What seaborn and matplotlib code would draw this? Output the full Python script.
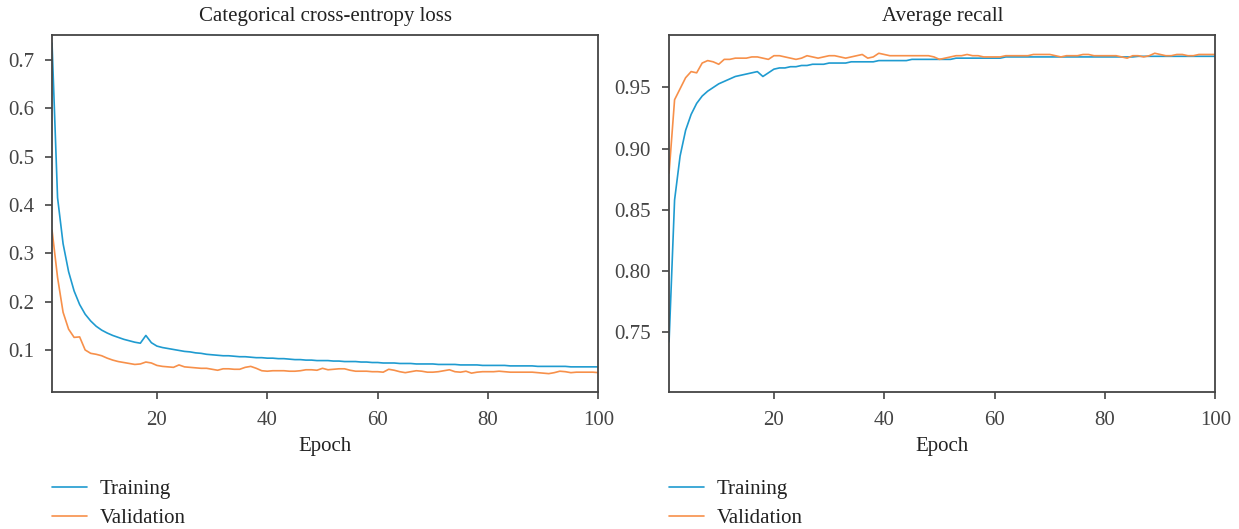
import numpy as np
import pandas as pd
import matplotlib
matplotlib.use("Agg")
import matplotlib.pyplot as plt
import seaborn as sns

# ---------------------------------------------------------------- data
epochs = list(range(1, 101))

train_loss = [
    0.735, 0.415, 0.320, 0.262, 0.222, 0.194, 0.174, 0.160, 0.149, 0.141,
    0.135, 0.130, 0.126, 0.122, 0.119, 0.116, 0.114, 0.130, 0.115, 0.108,
    0.105, 0.103, 0.101, 0.099, 0.097, 0.096, 0.094, 0.093, 0.091, 0.090,
    0.089, 0.088, 0.088, 0.087, 0.086, 0.086, 0.085, 0.084, 0.084, 0.083,
    0.083, 0.082, 0.082, 0.081, 0.080, 0.080, 0.079, 0.079, 0.078, 0.078,
    0.078, 0.077, 0.077, 0.076, 0.076, 0.076, 0.075, 0.075, 0.074, 0.074,
    0.073, 0.073, 0.073, 0.072, 0.072, 0.072, 0.071, 0.071, 0.071, 0.071,
    0.070, 0.070, 0.070, 0.070, 0.069, 0.069, 0.069, 0.069, 0.068, 0.068,
    0.068, 0.068, 0.068, 0.067, 0.067, 0.067, 0.067, 0.067, 0.066, 0.066,
    0.066, 0.066, 0.066, 0.066, 0.065, 0.065, 0.065, 0.065, 0.065, 0.065,
]

val_loss = [
    0.348, 0.250, 0.178, 0.143, 0.126, 0.127, 0.100, 0.093, 0.091, 0.088,
    0.083, 0.079, 0.076, 0.074, 0.072, 0.070, 0.071, 0.075, 0.073, 0.068,
    0.066, 0.065, 0.064, 0.069, 0.065, 0.064, 0.063, 0.062, 0.062, 0.060,
    0.058, 0.061, 0.061, 0.060, 0.060, 0.064, 0.066, 0.062, 0.057, 0.056,
    0.057, 0.057, 0.057, 0.056, 0.056, 0.057, 0.059, 0.059, 0.058, 0.062,
    0.059, 0.060, 0.061, 0.061, 0.058, 0.056, 0.056, 0.056, 0.055, 0.055,
    0.054, 0.060, 0.058, 0.055, 0.053, 0.055, 0.057, 0.056, 0.054, 0.054,
    0.055, 0.057, 0.059, 0.055, 0.054, 0.056, 0.052, 0.054, 0.055, 0.055,
    0.055, 0.056, 0.055, 0.054, 0.054, 0.054, 0.054, 0.054, 0.053, 0.052,
    0.051, 0.053, 0.056, 0.055, 0.053, 0.054, 0.054, 0.054, 0.054, 0.053,
]

train_recall = [
    0.742, 0.858, 0.894, 0.915, 0.928, 0.937, 0.943, 0.947, 0.950, 0.953,
    0.955, 0.957, 0.959, 0.960, 0.961, 0.962, 0.963, 0.959, 0.962, 0.965,
    0.966, 0.966, 0.967, 0.967, 0.968, 0.968, 0.969, 0.969, 0.969, 0.970,
    0.970, 0.970, 0.970, 0.971, 0.971, 0.971, 0.971, 0.971, 0.972, 0.972,
    0.972, 0.972, 0.972, 0.972, 0.973, 0.973, 0.973, 0.973, 0.973, 0.973,
    0.973, 0.973, 0.974, 0.974, 0.974, 0.974, 0.974, 0.974, 0.974, 0.974,
    0.974, 0.975, 0.975, 0.975, 0.975, 0.975, 0.975, 0.975, 0.975, 0.975,
    0.975, 0.975, 0.975, 0.975, 0.975, 0.975, 0.975, 0.975, 0.975, 0.975,
    0.975, 0.975, 0.975, 0.975, 0.975, 0.9755, 0.9755, 0.9755, 0.9755, 0.9755,
    0.9755, 0.9755, 0.9755, 0.9755, 0.9755, 0.9755, 0.9755, 0.9755, 0.9755, 0.9755,
]

val_recall = [
    0.880, 0.940, 0.949, 0.958, 0.963, 0.962, 0.970, 0.972, 0.971, 0.969,
    0.973, 0.973, 0.974, 0.974, 0.974, 0.975, 0.975, 0.974, 0.973, 0.976,
    0.976, 0.975, 0.974, 0.973, 0.974, 0.976, 0.975, 0.974, 0.975, 0.976,
    0.976, 0.975, 0.974, 0.975, 0.976, 0.977, 0.974, 0.975, 0.978, 0.977,
    0.976, 0.976, 0.976, 0.976, 0.976, 0.976, 0.976, 0.976, 0.975, 0.973,
    0.974, 0.975, 0.976, 0.976, 0.977, 0.976, 0.976, 0.975, 0.975, 0.975,
    0.975, 0.976, 0.976, 0.976, 0.976, 0.976, 0.977, 0.977, 0.977, 0.977,
    0.976, 0.975, 0.976, 0.976, 0.976, 0.977, 0.977, 0.976, 0.976, 0.976,
    0.976, 0.976, 0.975, 0.974, 0.976, 0.976, 0.975, 0.976, 0.978, 0.977,
    0.976, 0.976, 0.977, 0.977, 0.976, 0.976, 0.977, 0.977, 0.977, 0.977,
]

series_names = ["Training", "Validation"]
colors = {"Training": "#1f9bd0", "Validation": "#f7904a"}

# ---------------------------------------------------------------- style
sns.set_style("ticks")
plt.rcParams["font.family"] = ["Liberation Serif", "DejaVu Serif"]
plt.rcParams["axes.edgecolor"] = "#444444"
plt.rcParams["xtick.color"] = "#444444"
plt.rcParams["ytick.color"] = "#444444"
plt.rcParams["text.color"] = "#222222"
plt.rcParams["axes.labelcolor"] = "#222222"

fig = plt.figure(figsize=(12.39, 5.29), dpi=100)
ax1 = fig.add_axes([0.042, 0.259, 0.441, 0.675])
ax2 = fig.add_axes([0.540, 0.259, 0.441, 0.675])


def long_frame(train, val):
    return pd.DataFrame({
        "Epoch": epochs * 2,
        "value": train + val,
        "series": ["Training"] * len(train) + ["Validation"] * len(val),
    })


panels = [
    (ax1, long_frame(train_loss, val_loss), "Categorical cross-entropy loss",
     (0.013, 0.752), [0.1, 0.2, 0.3, 0.4, 0.5, 0.6, 0.7], "{:.1f}"),
    (ax2, long_frame(train_recall, val_recall), "Average recall",
     (0.701, 0.993), [0.75, 0.80, 0.85, 0.90, 0.95], "{:.2f}"),
]

for ax, df, title, ylim, yticks, fmt in panels:
    sns.lineplot(data=df, x="Epoch", y="value", hue="series",
                 hue_order=series_names, palette=colors, linewidth=1.2, ax=ax)
    ax.set_xlim(1, 100)
    ax.set_ylim(*ylim)
    ax.set_xticks([20, 40, 60, 80, 100])
    ax.set_yticks(yticks)
    ax.set_yticklabels([fmt.format(t) for t in yticks])
    ax.set_title(title, fontsize=15, pad=10)
    ax.set_xlabel("Epoch", fontsize=15, labelpad=5)
    ax.set_ylabel("")
    ax.tick_params(labelsize=15, length=5, width=1.2, direction="out")
    ax.tick_params(axis="x", pad=9)
    ax.tick_params(axis="y", pad=8)
    for sp in ax.spines.values():
        sp.set_visible(True)
        sp.set_linewidth(1.3)
    handles, labels = ax.get_legend_handles_labels()
    ax.legend(handles, labels, loc="upper left", bbox_to_anchor=(0.0, -0.245),
              frameon=False, fontsize=15, handlelength=1.7, handletextpad=0.6,
              borderaxespad=0, borderpad=0, labelspacing=0.45)

fig.savefig("out.png", dpi=100)
